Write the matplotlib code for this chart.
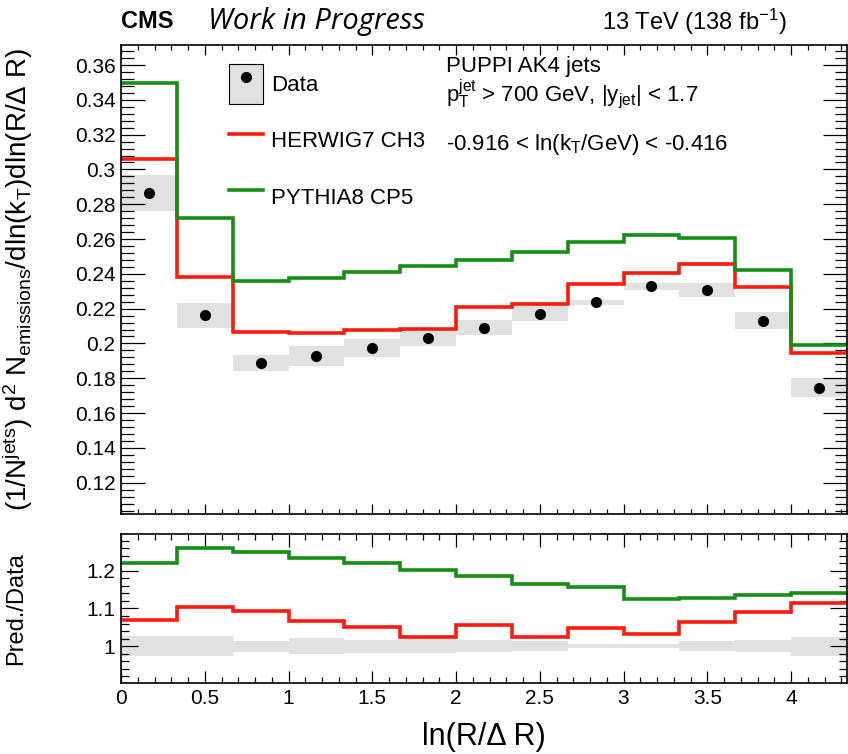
import matplotlib
matplotlib.use("Agg")
import matplotlib.pyplot as plt
import numpy as np
from matplotlib.lines import Line2D
from matplotlib.patches import Patch
from matplotlib.ticker import MultipleLocator, FormatStrFormatter

plt.rcParams["font.family"] = ["Liberation Sans", "DejaVu Sans"]
plt.rcParams["mathtext.fontset"] = "custom"
plt.rcParams["mathtext.rm"] = "Liberation Sans"
plt.rcParams["mathtext.it"] = "Liberation Sans:italic"
plt.rcParams["mathtext.bf"] = "Liberation Sans:bold"

# 13 bins of width 1/3 in ln(R/dR)
bin_edges = np.arange(14) / 3.0

data = [0.2863, 0.2161, 0.1889, 0.1928, 0.1975, 0.2033, 0.2090,
        0.2171, 0.2236, 0.2330, 0.2307, 0.2131, 0.1745]
data_err = [0.0103, 0.0074, 0.0045, 0.0060, 0.0050, 0.0049, 0.0043,
            0.0042, 0.0015, 0.0020, 0.0040, 0.0049, 0.0055]
herwig = [0.3058, 0.2383, 0.2067, 0.2058, 0.2075, 0.2081, 0.2208,
          0.2226, 0.2341, 0.2403, 0.2456, 0.2324, 0.1943]
pythia = [0.3498, 0.2722, 0.2359, 0.2378, 0.2410, 0.2445, 0.2481,
          0.2527, 0.2585, 0.2623, 0.2604, 0.2422, 0.1991]
# relative uncertainty shown in the ratio panel
ratio_err = [0.026, 0.026, 0.0145, 0.022, 0.0175, 0.019, 0.015,
             0.013, 0.006, 0.0045, 0.013, 0.016, 0.025]

GRAY = "#e1e1e1"
RED = "#ff1a0d"
GREEN = "#148f14"
LW = 2.6

data = np.array(data)
data_err = np.array(data_err)
ratio_err = np.array(ratio_err)
centers = 0.5 * (bin_edges[:-1] + bin_edges[1:])
widths = np.diff(bin_edges)

fig = plt.figure(figsize=(8.48, 7.54), dpi=100)
ax = fig.add_axes([0.1427, 0.3183, 0.856, 0.622])
rax = fig.add_axes([0.1427, 0.0942, 0.856, 0.1976])

# main panel
ax.bar(bin_edges[:-1], 2 * data_err, bottom=data - data_err, width=widths,
       align="edge", color=GRAY, linewidth=0, zorder=1)
ax.stairs(herwig, bin_edges, baseline=None, color=RED, linewidth=LW, zorder=2)
ax.stairs(pythia, bin_edges, baseline=None, color=GREEN, linewidth=LW, zorder=2)
ax.plot(centers, data, "o", color="black", markersize=7, zorder=3)

ax.set_xlim(0, 13 / 3.0)
ax.set_ylim(0.102, 0.3715)
ax.yaxis.set_major_locator(MultipleLocator(0.02))
ax.yaxis.set_minor_locator(MultipleLocator(0.004))
ax.yaxis.set_major_formatter(FormatStrFormatter("%g"))
ax.xaxis.set_major_locator(MultipleLocator(0.5))
ax.xaxis.set_minor_locator(MultipleLocator(0.1))
ax.tick_params(axis="x", labelbottom=False)
ax.set_ylabel(r"(1/N$^{\mathrm{jets}}$) d$^{2}$ N$_{\mathrm{emissions}}$/dln(k$_{\mathrm{T}}$)dln(R/Δ R)",
              fontsize=20)
ax.yaxis.set_label_coords(-0.118, 0.5)

handles = [
    (Patch(facecolor=GRAY, edgecolor="black", linewidth=0.8),
     Line2D([], [], marker="o", color="black", linestyle="none", markersize=7)),
    Line2D([], [], color=RED, linewidth=LW),
    Line2D([], [], color=GREEN, linewidth=LW),
]
ax.legend(handles, ["Data", "HERWIG7 CH3", "PYTHIA8 CP5"], loc="upper left",
          bbox_to_anchor=(0.149, 0.960), frameon=False, fontsize=16,
          handlelength=1.5, handleheight=2.4, labelspacing=0.74,
          handletextpad=0.4, borderpad=0, borderaxespad=0)

ax.text(0.448, 0.955, "PUPPI AK4 jets", transform=ax.transAxes, fontsize=16, va="center")
ax.text(0.448, 0.896, r"p$_{\mathrm{T}}^{\mathrm{jet}}$ > 700 GeV, |y$_{\mathrm{jet}}$| < 1.7",
        transform=ax.transAxes, fontsize=16, va="center")
ax.text(0.448, 0.787, r"-0.916 < ln(k$_{\mathrm{T}}$/GeV) < -0.416",
        transform=ax.transAxes, fontsize=16, va="center")

# ratio panel
rax.bar(bin_edges[:-1], 2 * ratio_err, bottom=1 - ratio_err, width=widths,
        align="edge", color=GRAY, linewidth=0, zorder=1)
rax.stairs(np.array(herwig) / data, bin_edges, baseline=None, color=RED, linewidth=LW, zorder=2)
rax.stairs(np.array(pythia) / data, bin_edges, baseline=None, color=GREEN, linewidth=LW, zorder=2)
rax.set_xlim(0, 13 / 3.0)
rax.set_ylim(0.902, 1.298)
rax.yaxis.set_major_locator(MultipleLocator(0.1))
rax.yaxis.set_minor_locator(MultipleLocator(0.02))
rax.yaxis.set_major_formatter(FormatStrFormatter("%g"))
rax.xaxis.set_major_locator(MultipleLocator(0.5))
rax.xaxis.set_minor_locator(MultipleLocator(0.1))
rax.xaxis.set_major_formatter(FormatStrFormatter("%g"))
rax.set_ylabel("Pred./Data", fontsize=17)
rax.yaxis.set_label_coords(-0.129, 0.5)
rax.set_xlabel("ln(R/Δ R)", fontsize=22)
rax.xaxis.set_label_coords(0.5, -0.26)

for a, ymaj, ymin, xmaj, xmin in ((ax, 17, 9, 7, 3.5), (rax, 12, 6, 9, 4.5)):
    a.tick_params(which="both", direction="in", top=True, right=True,
                  labelsize=15, width=0.9, pad=4)
    a.tick_params(axis="y", which="major", length=ymaj)
    a.tick_params(axis="y", which="minor", length=ymin)
    a.tick_params(axis="x", which="major", length=xmaj)
    a.tick_params(axis="x", which="minor", length=xmin)
    for s in a.spines.values():
        s.set_linewidth(1.2)

fig.text(0.1427, 0.971, "CMS", fontsize=17, fontweight="bold", va="center")
fig.text(0.245, 0.971, "Work in Progress", fontsize=21, fontstyle="italic",
         family=["Open Sans", "DejaVu Sans"], va="center")
fig.text(0.928, 0.971, r"13 TeV (138 fb$^{\mathrm{-1}}$)", fontsize=17, ha="right", va="center")

fig.savefig("out.png", dpi=100)
